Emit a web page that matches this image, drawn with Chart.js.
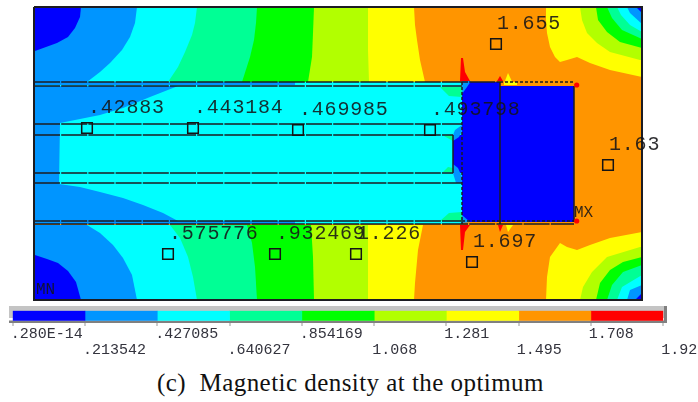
<!DOCTYPE html>
<html>
<head>
<meta charset="utf-8">
<title>Magnetic density at the optimum</title>
<script src="https://cdn.jsdelivr.net/npm/chart.js@4/dist/chart.umd.min.js"></script>
<style>
    html, body { margin: 0; padding: 0; background: #fff; overflow: hidden; }
    canvas { position: absolute; left: 0; }
    #contourChart { top: 0; }
    #scaleChart { top: 300px; }
    #caption {
        position: absolute; left: 157px; top: 369px; white-space: pre;
        font: 25px "Liberation Serif", serif; letter-spacing: 0.45px; color: #111;
    }
</style>
</head>
<body>
<canvas id="contourChart" width="698" height="304"></canvas>
<canvas id="scaleChart" width="698" height="62"></canvas>
<div id="caption">(c)  Magnetic density at the optimum</div>
<script>
// contour level colours, lowest to highest
const levelColors = ['#0000ff', '#0095ff', '#00ffff', '#00ff95', '#00ff00', '#b2ff00', '#ffff00', '#ff9500', '#ff0000'];
const levelValues = [0, 0.213542, 0.427085, 0.640627, 0.854169, 1.068, 1.281, 1.495, 1.708, 1.922];
const levelLabels = ['.280E-14', '.213542', '.427085', '.640627', '.854169', '1.068', '1.281', '1.495', '1.708', '1.92'];

// probe points
const probeX = [53, 159, 264, 396, 134, 241, 322, 438, 462, 574];
const probeY = [121, 121, 123, 123, 247, 247, 247, 255, 37, 158];
const probeLabels = ['.42883', '.443184', '.469985', '.493798', '.575776', '.932469', '1.226', '1.697', '1.655', '1.63'];

const extremeX = [2, 540];
const extremeY = [287, 210];
const extremeLabels = ['MN', 'MX'];
const hotSpotX = [542.7, 542.7];
const hotSpotY = [78, 214];

// filled bands, model outline of each colour
const orangeBase = [[0, 0], [608, 0], [608, 293], [0, 293]];

const yellowTopLeft = [[0, 0], [380, 0], [381, 18], [383, 33], [386, 53], [391, 75], [0, 75]];
const limeTopLeft = [[0, 0], [334, 0], [334, 43], [335, 75], [0, 75]];
const greenTopLeft = [[0, 0], [280, 0], [279, 26], [278, 50], [274, 75], [0, 75]];
const springTopLeft = [[0, 0], [223, 0], [222, 16], [220, 33], [216, 50], [208, 75], [0, 75]];
const cyanTopLeft = [[0, 0], [163, 0], [161, 16], [158, 28], [151, 45], [144, 60], [134, 75], [0, 75]];
const skyTopLeft = [[0, 0], [103, 0], [101, 16], [96, 30], [88, 43], [76, 56], [66, 65], [53, 75], [0, 75]];
const blueTopLeft = [[0, 0], [47, 0], [46, 10], [41, 21], [34, 30], [23, 36], [1, 44], [0, 44]];

const yellowBottomLeft = [[0, 218], [389, 218], [384, 243], [381, 276], [380, 293], [0, 293]];
const limeBottomLeft = [[0, 218], [334, 218], [334, 293], [0, 293]];
const greenBottomLeft = [[0, 218], [277, 218], [279, 250], [280, 293], [0, 293]];
const springBottomLeft = [[0, 218], [213, 218], [218, 236], [221, 260], [223, 293], [0, 293]];
const cyanBottomLeft = [[0, 218], [136, 218], [146, 231], [154, 250], [159, 270], [163, 293], [0, 293]];
const skyBottomLeft = [[0, 218], [53, 218], [66, 226], [79, 238], [89, 251], [98, 268], [103, 293], [0, 293]];
const blueBottomLeft = [[0, 248], [1, 248], [13, 252], [24, 256], [34, 264], [42, 275], [47, 293], [0, 293]];

const yellowTopRight = [[512, 0], [512, 13], [513, 26], [516, 40], [521, 50], [526, 55], [533, 53], [543, 50], [556, 56], [576, 63], [608, 70], [608, 0]];
const limeTopRight = [[546, 0], [548, 13], [553, 26], [563, 36], [576, 45], [606, 53], [608, 53], [608, 0]];
const greenTopRight = [[562, 0], [564, 13], [573, 25], [586, 35], [608, 41], [608, 0]];
const springTopRight = [[573, 0], [578, 11], [588, 23], [608, 32], [608, 0]];
const cyanTopRight = [[583, 0], [587, 8], [596, 18], [608, 25], [608, 0]];
const skyTopRight = [[593, 0], [596, 6], [608, 17], [608, 0]];
const blueTopRight = [[602, 0], [608, 6], [608, 0]];

const yellowBottomRight = [[512, 293], [513, 270], [516, 250], [526, 236], [533, 240], [543, 243], [556, 238], [576, 231], [608, 225], [608, 293]];
const limeBottomRight = [[546, 293], [549, 280], [558, 265], [573, 250], [606, 240], [608, 240], [608, 293]];
const greenBottomRight = [[562, 293], [566, 276], [576, 263], [589, 255], [608, 250], [608, 293]];
const springBottomRight = [[573, 293], [578, 278], [589, 265], [608, 258], [608, 293]];
const cyanBottomRight = [[583, 293], [588, 280], [608, 268], [608, 293]];
const skyBottomRight = [[593, 293], [596, 283], [608, 278], [608, 293]];
const blueBottomRight = [[601, 293], [608, 286], [608, 293]];

const cyanCore = [[0, 75], [428, 75], [428, 217], [0, 217]];
const skyCoreEnd = [[0, 79], [144, 79], [116, 90], [89, 101], [66, 108], [46, 112], [26, 116], [25, 177], [46, 180], [66, 185], [89, 191], [109, 198], [129, 206], [144, 214], [0, 214]];
const skyStripTop = [[0, 75], [261, 75], [261, 78], [0, 78]];
const skyStripBottom = [[0, 214], [261, 214], [261, 217], [0, 217]];
const springUpper = [[406, 80], [428, 80], [428, 90], [415, 89]];
const springLower = [[406, 214], [415, 206], [428, 205], [428, 214]];
const springCoreTop = [[410, 129], [419, 128], [419, 134]];
const springCoreBottom = [[409, 165], [414, 160], [419, 161], [419, 165]];
const bluePole = [[428, 75], [466, 75], [466, 79], [540, 79], [540, 215], [428, 215]];
const blueGap = [[419, 128], [428, 128], [428, 166], [419, 166]];
const skyGapTop = [[428, 118], [421, 123], [419, 128], [419, 134], [425, 130], [428, 124]];
const skyGapBottom = [[419, 157], [424, 161], [428, 170], [428, 176], [422, 176], [419, 166]];
const skyPoleTop = [[428, 74], [437, 74], [433, 80], [428, 87]];
const skyPoleBottom = [[428, 208], [436, 215], [428, 216]];

const redSpikeTop = [[427, 51], [429, 51], [431, 65], [436, 74], [426, 74]];
const redTipTop = [[466, 69], [463, 74], [469, 74]];
const yellowTipTop = [[474, 66], [470, 76.5], [479, 76.5]];
const yellowEdge = [[470, 75], [483, 75], [483, 78], [470, 78]];
const redSpikeBottom = [[426, 218], [436, 218], [431, 225], [429, 243], [427, 243]];
const redTipBottom = [[464, 218], [469, 218], [466, 225]];
const yellowTipBottom = [[472, 218], [479, 218], [474, 225]];

// geometry outlines
const solidLines = [
    [[0, 75], [466, 75]], [[0, 79], [428, 79]], [[0, 117], [428, 117]], [[0, 128], [419, 128]],
    [[0, 166], [419, 166]], [[0, 176], [428, 176]], [[0, 214], [428, 214]], [[0, 217], [540, 217]]
];
const plainLines = [[[419, 128], [419, 166]], [[466, 75], [466, 217]], [[540, 79], [540, 215]]];
const dashedLines = [[[466, 75], [540, 75]], [[428, 75], [428, 217]], [[428, 214], [540, 214]]];
const frameLine = [[0, 0], [608, 0], [608, 293], [0, 293], [0, 0]];

const darkLine = '#1c1c22';

function shape(color, pts) {
    return {
        data: pts.concat([pts[0]]),
        showLine: true,
        fill: 'shape',
        backgroundColor: color,
        borderWidth: 0,
        pointRadius: 0,
        tension: 0
    };
}

function line(pts, dash, width) {
    return {
        data: pts,
        showLine: true,
        fill: false,
        borderColor: darkLine,
        borderWidth: width || 1.5,
        borderDash: dash || [],
        pointRadius: 0,
        tension: 0
    };
}

const [blue, sky, cyan, spring, green, lime, yellow, orange, red] = levelColors;

// painter's order, back to front
const layers = [
    shape(orange, orangeBase),
    shape(yellow, yellowTopLeft), shape(lime, limeTopLeft), shape(green, greenTopLeft), shape(spring, springTopLeft),
    shape(cyan, cyanTopLeft), shape(sky, skyTopLeft), shape(blue, blueTopLeft),
    shape(yellow, yellowBottomLeft), shape(lime, limeBottomLeft), shape(green, greenBottomLeft), shape(spring, springBottomLeft),
    shape(cyan, cyanBottomLeft), shape(sky, skyBottomLeft), shape(blue, blueBottomLeft),
    shape(yellow, yellowTopRight), shape(lime, limeTopRight), shape(green, greenTopRight), shape(spring, springTopRight),
    shape(cyan, cyanTopRight), shape(sky, skyTopRight), shape(blue, blueTopRight),
    shape(yellow, yellowBottomRight), shape(lime, limeBottomRight), shape(green, greenBottomRight), shape(spring, springBottomRight),
    shape(cyan, cyanBottomRight), shape(sky, skyBottomRight), shape(blue, blueBottomRight),
    shape(cyan, cyanCore), shape(sky, skyCoreEnd), shape(sky, skyStripTop), shape(sky, skyStripBottom),
    shape(spring, springUpper), shape(spring, springLower), shape(spring, springCoreTop), shape(spring, springCoreBottom),
    shape(blue, bluePole), shape(blue, blueGap), shape(sky, skyGapTop), shape(sky, skyGapBottom),
    shape(sky, skyPoleTop), shape(sky, skyPoleBottom),
    shape(red, redSpikeTop), shape(red, redTipTop), shape(yellow, yellowEdge), shape(yellow, yellowTipTop),
    shape(red, redSpikeBottom), shape(red, redTipBottom), shape(yellow, yellowTipBottom)
];

solidLines.forEach(function (pts) { layers.push(line(pts, [26, 1.2])); });
plainLines.forEach(function (pts) { layers.push(line(pts)); });
dashedLines.forEach(function (pts) { layers.push(line(pts, [3, 2])); });
layers.push(line(frameLine, [], 2));

layers.push({
    data: hotSpotX.map(function (x, i) { return { x: x, y: hotSpotY[i] }; }),
    showLine: false,
    pointStyle: 'circle',
    pointRadius: 2.6,
    pointBackgroundColor: red,
    pointBorderWidth: 0
});
layers.push({
    data: probeX.map(function (x, i) { return { x: x, y: probeY[i] }; }),
    showLine: false,
    pointStyle: 'rect',
    pointRadius: 7.5,
    pointBackgroundColor: 'rgba(0,0,0,0)',
    pointBorderColor: '#141414',
    pointBorderWidth: 1.5
});

const probeTextPlugin = {
    id: 'probeText',
    afterDraw: function (chart) {
        const ctx = chart.ctx;
        const x = chart.scales.x;
        const y = chart.scales.y;
        ctx.save();
        ctx.fillStyle = 'rgba(20,20,24,0.88)';
        ctx.textBaseline = 'alphabetic';
        ctx.font = '20px "Liberation Mono", monospace';
        ctx.letterSpacing = '0.8px';
        probeLabels.forEach(function (label, i) {
            ctx.fillText(label, x.getPixelForValue(probeX[i]) + 1, y.getPixelForValue(probeY[i]) - 15);
        });
        ctx.font = '16px "Liberation Mono", monospace';
        ctx.letterSpacing = '0px';
        extremeLabels.forEach(function (label, i) {
            ctx.fillText(label, x.getPixelForValue(extremeX[i]), y.getPixelForValue(extremeY[i]));
        });
        ctx.restore();
    }
};

new Chart(document.getElementById('contourChart').getContext('2d'), {
    type: 'scatter',
    // chart.js paints the first dataset last
    data: { datasets: layers.slice().reverse() },
    plugins: [probeTextPlugin],
    options: {
        responsive: false,
        animation: false,
        layout: { autoPadding: false, padding: { left: 34, right: 56, top: 7, bottom: 4 } },
        scales: {
            x: { type: 'linear', min: 0, max: 608, display: false },
            y: { type: 'linear', min: 0, max: 293, reverse: true, display: false }
        },
        plugins: { legend: { display: false }, tooltip: { enabled: false } },
        clip: false
    }
});

const scaleFramePlugin = {
    id: 'scaleFrame',
    beforeDatasetsDraw: function (chart) {
        const ctx = chart.ctx;
        ctx.save();
        ctx.fillStyle = '#c4c4c4';
        ctx.fillRect(9, 6, 658, 12);
        ctx.fillStyle = '#808080';
        ctx.fillRect(9, 20.5, 658, 2.5);
        ctx.fillRect(664, 6, 3, 17);
        ctx.restore();
    },
    afterDraw: function (chart) {
        const ctx = chart.ctx;
        const x = chart.scales.x;
        ctx.save();
        ctx.font = '15px "Liberation Mono", monospace';
        ctx.textBaseline = 'alphabetic';
        levelLabels.forEach(function (label, i) {
            const px = x.getPixelForValue(levelValues[i]);
            ctx.fillStyle = '#9a9a9a';
            ctx.fillRect(Math.round(px) - 0.5, 23, 1, 3);
            ctx.fillStyle = '#33333d';
            ctx.fillText(label, px - 2, i % 2 ? 54 : 38);
        });
        ctx.restore();
    }
};

new Chart(document.getElementById('scaleChart').getContext('2d'), {
    type: 'bar',
    data: {
        labels: ['B'],
        datasets: levelColors.map(function (color, i) {
            return {
                data: [[levelValues[i], levelValues[i + 1]]],
                backgroundColor: color,
                barPercentage: 1,
                categoryPercentage: 1,
                grouped: false
            };
        })
    },
    plugins: [scaleFramePlugin],
    options: {
        indexAxis: 'y',
        responsive: false,
        animation: false,
        layout: { padding: { left: 12.7, right: 34.7, top: 10.7, bottom: 41.3 } },
        scales: {
            x: { type: 'linear', min: 0, max: 1.922, display: false },
            y: { display: false }
        },
        plugins: { legend: { display: false }, tooltip: { enabled: false } }
    }
});
</script>
</body>
</html>
